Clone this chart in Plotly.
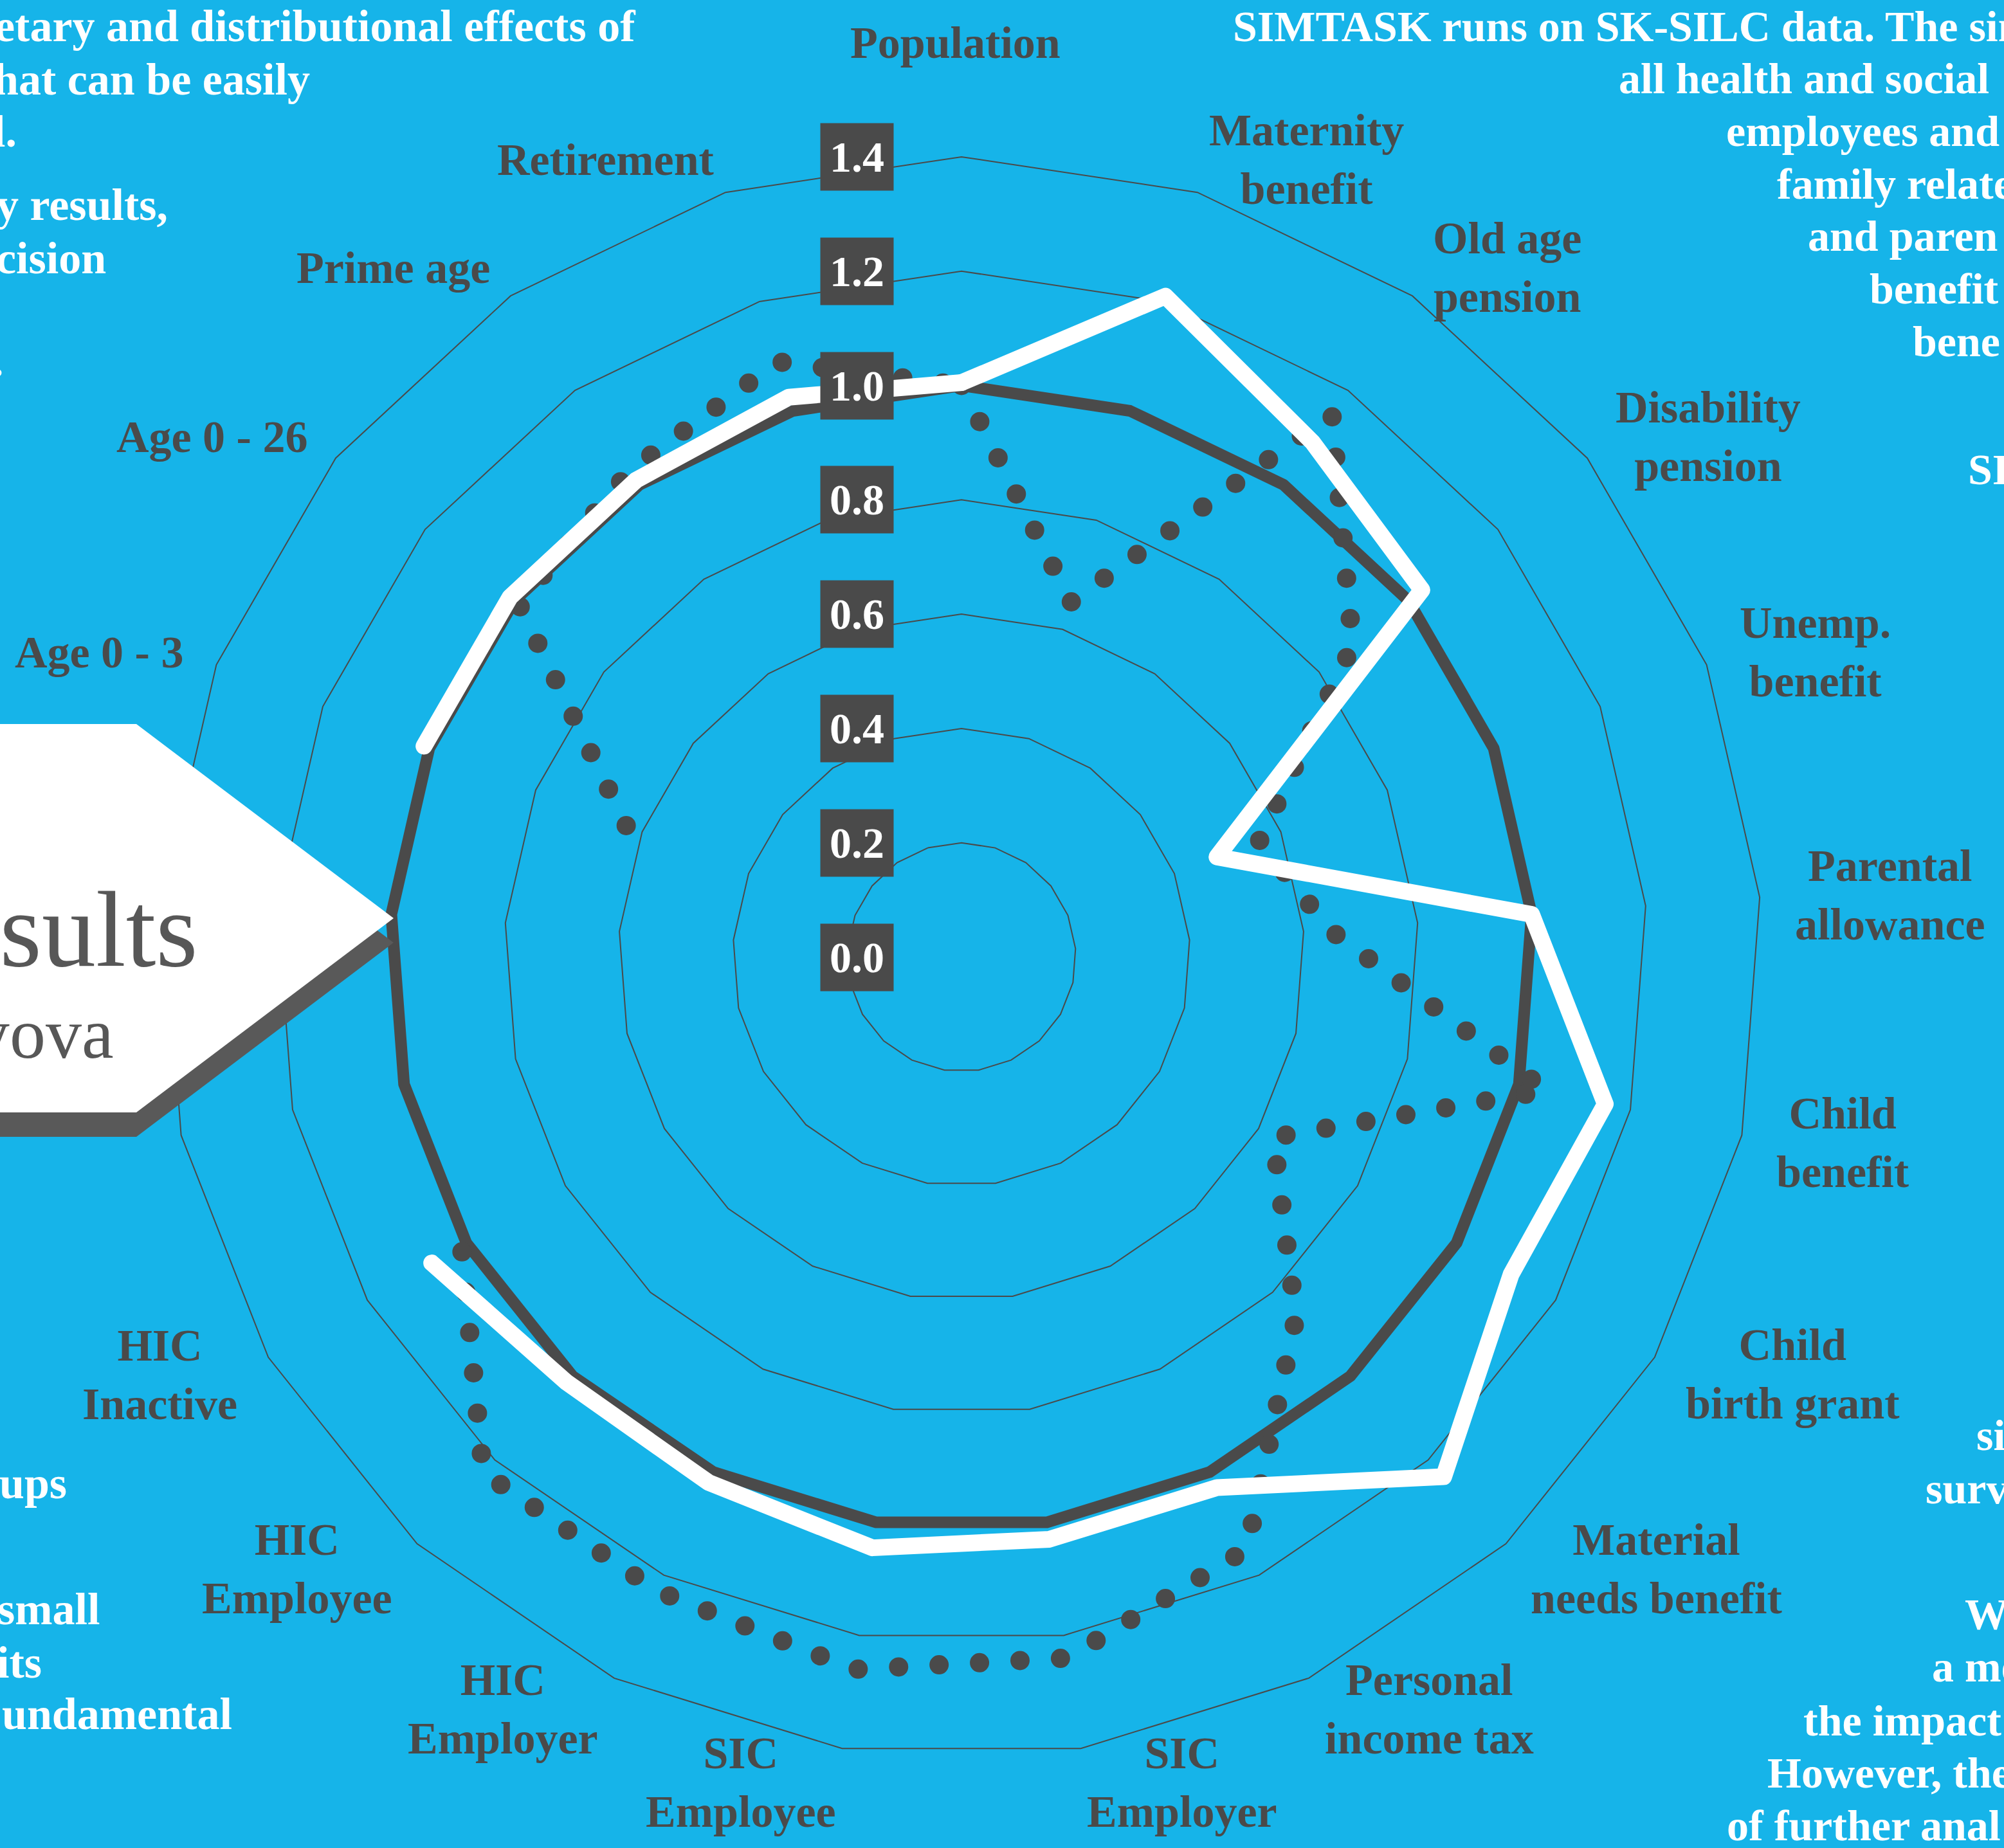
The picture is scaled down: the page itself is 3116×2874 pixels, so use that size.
import plotly.graph_objects as go
import math

# ---------------- data ----------------
categories = [
    "Population", "Maternity<br>benefit", "Old age<br>pension", "Disability<br>pension",
    "Unemp.<br>benefit", "Parental<br>allowance", "Child<br>benefit", "Child<br>birth grant",
    "Material<br>needs benefit", "Personal<br>income tax", "SIC<br>Employer", "SIC<br>Employee",
    "HIC<br>Employer", "HIC<br>Employee", "HIC<br>Inactive", "Employed", "Inactive",
    "Age 0 - 3", "Age 0 - 26", "Prime age", "Retirement",
]
# labels of categories 15 and 16 are covered by the title banner in the original
covered = ["Employed", "Inactive"]

baseline = [1.0, 1.0, 1.0, 1.0, 1.0, 1.0, 1.0, 1.0, 1.0, 1.0, 1.0,
            1.0, 1.0, 1.0, 1.0, 1.0, 1.0, 1.0, 1.0, 1.0, 1.0]
scenario_white = [1.005, 1.21, 1.09, 1.03, 0.48, 1.0, 1.155, 1.11, 1.24, 1.03, 1.03,
                  1.045, 1.02, 1.015, 1.07, None, None, 1.01, 1.01, 1.01, 1.025]
scenario_dotted = [1.0, 0.65, 1.15, 0.875, 0.56, 0.645, 1.05, 0.63, 0.86, 1.15, 1.24,
                   1.26, 1.23, 1.23, 1.01, None, None, 0.63, 0.99, 1.03, 1.09]

tick_values = [0.0, 0.2, 0.4, 0.6, 0.8, 1.0, 1.2, 1.4]
tick_labels = ["0.0", "0.2", "0.4", "0.6", "0.8", "1.0", "1.2", "1.4"]

# ---------------- geometry / style ----------------
W, H = 3116, 2874
CX, CY = 1495, 1488.5
UNIT = 889.0
RMAX = 1.4
BG = "#16B4E9"
DARK = "#4a4a4a"
FONT = "Liberation Serif"


def px(x):
    return x / W


def py(y):
    return 1 - y / H


def closed(v):
    return list(v) + [v[0]]


fig = go.Figure()
fig.add_trace(go.Scatterpolar(r=closed(baseline), theta=closed(categories), mode="lines",
                              line=dict(color=DARK, width=18), hoverinfo="skip"))
fig.add_trace(go.Scatterpolar(r=closed(scenario_dotted), theta=closed(categories), mode="lines",
                              line=dict(color=DARK, width=30, dash="dot"), connectgaps=False,
                              hoverinfo="skip"))
fig.add_trace(go.Scatterpolar(r=closed(scenario_white), theta=closed(categories), mode="lines",
                              line=dict(color="white", width=26), connectgaps=False,
                              hoverinfo="skip"))

R_PX = RMAX * UNIT
fig.update_layout(
    width=W, height=H, margin=dict(l=0, r=0, t=0, b=0),
    paper_bgcolor=BG, showlegend=False,
    polar=dict(
        bgcolor=BG, gridshape="linear",
        domain=dict(x=[px(CX - R_PX), px(CX + R_PX)], y=[py(CY + R_PX), py(CY - R_PX)]),
        radialaxis=dict(range=[0, RMAX], tickvals=tick_values[1:], showticklabels=False,
                        ticks="", showline=False, gridcolor=DARK, gridwidth=2),
        angularaxis=dict(type="category", categoryarray=categories, direction="clockwise",
                         rotation=90, showgrid=False, showticklabels=False, ticks="",
                         showline=True, linecolor=DARK, linewidth=2),
    ),
)

annotations = []

# radial tick labels (dark boxes)
for v, t in zip(tick_values, tick_labels):
    annotations.append(dict(
        x=px(CX - 105), y=py(CY - v * UNIT), xref="paper", yref="paper",
        xanchor="right", yanchor="middle", showarrow=False, text=t,
        font=dict(family=FONT, size=68, color="white", weight="bold"),
        bgcolor=DARK, borderpad=14,
    ))

# category labels
N = len(categories)
R_LAB = 1298
for i, c in enumerate(categories):
    if c in covered:
        continue
    th = math.radians(i * 360.0 / N)
    if i == 0:
        annotations.append(dict(x=px(CX - 10), y=py(66), xref="paper", yref="paper",
                                xanchor="center", yanchor="middle", showarrow=False, text=c,
                                font=dict(family=FONT, size=70, color=DARK, weight="bold")))
        continue
    x = CX + R_LAB * math.sin(th)
    y = CY - R_LAB * math.cos(th)
    annotations.append(dict(
        x=px(x), y=py(y), xref="paper", yref="paper",
        xanchor="left" if math.sin(th) > 0 else "right", yanchor="middle",
        showarrow=False, text=c, align="center",
        font=dict(family=FONT, size=70, color=DARK, weight="bold"),
    ))

# surrounding infographic text (cropped in the original)
LSIZE = 70
RSIZE = 68
right_anchored = [
    ("etary and distributional effects of", 990, 64),
    ("hat can be easily", 484, 147),
    ("l.", 28, 228),
    ("y results,", 263, 342),
    ("cision", 167, 425),
    (".", 8, 585),
    ("ups", 106, 2330),
    ("small", 157, 2526),
    ("its", 67, 2609),
    ("undamental", 363, 2689),
]
left_anchored = [
    ("SIMTASK runs on SK-SILC data. The simu", 1915, 64),
    ("all health and social", 2515, 145),
    ("employees and", 2682, 227),
    ("family relate", 2761, 309),
    ("and paren", 2809, 390),
    ("benefit", 2905, 472),
    ("bene", 2972, 554),
    ("SI", 3058, 753),
    ("si", 3071, 2255),
    ("surv", 2992, 2338),
    ("W", 3053, 2533),
    ("a me", 3002, 2615),
    ("the impact", 2802, 2699),
    ("However, the", 2746, 2780),
    ("of further anal", 2683, 2862),
]
for t, x, base in right_anchored:
    annotations.append(dict(x=px(x), y=py(base - 0.3375 * LSIZE), xref="paper", yref="paper",
                            xanchor="right", yanchor="middle", showarrow=False, text=t,
                            font=dict(family=FONT, size=LSIZE, color="white", weight="bold")))
for t, x, base in left_anchored:
    annotations.append(dict(x=px(x), y=py(base - 0.3375 * RSIZE), xref="paper", yref="paper",
                            xanchor="left", yanchor="middle", showarrow=False, text=t,
                            font=dict(family=FONT, size=RSIZE, color="white", weight="bold")))

# banner title fragments
annotations.append(dict(x=px(310), y=py(1502 - 0.3375 * 168), xref="paper", yref="paper",
                        xanchor="right", yanchor="middle", showarrow=False, text="Results",
                        font=dict(family=FONT, size=168, color="#575757")))
annotations.append(dict(x=px(179), y=py(1645 - 0.3375 * 112), xref="paper", yref="paper",
                        xanchor="right", yanchor="middle", showarrow=False, text="yova",
                        font=dict(family=FONT, size=112, color="#575757")))

fig.update_layout(annotations=annotations)


# banner arrow with shadow
def poly(points):
    return "M " + " L ".join(f"{px(x):.5f},{py(y):.5f}" for x, y in points) + " Z"


arrow = [(-20, 1126), (212, 1126), (612, 1428), (212, 1730), (-20, 1730)]
shadow = [(x, y + 38) for x, y in arrow]
fig.add_shape(type="path", path=poly(shadow), xref="paper", yref="paper",
              fillcolor="#595959", line=dict(width=0), layer="above")
fig.add_shape(type="path", path=poly(arrow), xref="paper", yref="paper",
              fillcolor="white", line=dict(width=0), layer="above")

post = """
var gd = document.getElementById('{plot_id}');
var trs = gd.querySelectorAll('g.trace.scatter');
trs.forEach(function(tr, i){
  tr.querySelectorAll('path.js-line').forEach(function(p){
    p.style.strokeLinejoin = 'round';
    p.style.strokeLinecap = 'round';
    if (i === 1) { p.style.strokeDasharray = '0 63'; }
  });
});
"""

fig.write_html("out.html", config={"displayModeBar": False}, post_script=post)
